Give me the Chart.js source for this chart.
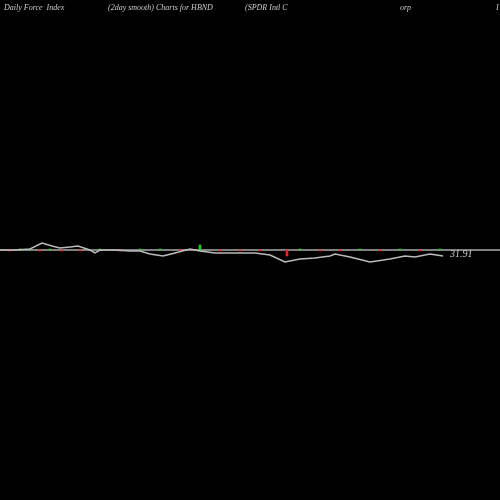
<!DOCTYPE html>
<html>
<head>
<meta charset="utf-8">
<script src="https://cdn.jsdelivr.net/npm/chart.js@4.4.0/dist/chart.umd.min.js"></script>
<style>
  html, body { margin: 0; padding: 0; background: #000; }
  #wrap { width: 500px; height: 500px; }
</style>
</head>
<body>
<div id="wrap"><canvas id="chart"></canvas></div>
<script>
// x positions (px across the chart) and force index values (offset from the zero line)
const xs = [0, 15, 30, 42, 52, 60, 70, 78, 90, 95, 100, 115, 130, 140, 150, 163, 175, 190, 200, 215, 240, 255, 270, 285, 300, 315, 330, 335, 350, 370, 390, 405, 415, 430, 443];
const force = [0, 0, 1, 7, 4, 2, 3, 4, 0, -3, 0, 0, -1, -1, -4, -6, -3, 1, -1, -3, -3, -3, -5, -12, -9, -8, -6, -4, -7, -12, -9, -6, -7, -4, -6];
const tickX = [10, 20, 30, 40, 50, 62, 80, 100, 120, 140, 160, 180, 200, 220, 240, 260, 287, 300, 320, 340, 360, 380, 400, 420, 440];
const tickVal = [-1, 1, 1, -1, 1, -1, -1, 1, -1, 1, 1, -1, 5, -1, -1, -1, -6, 1, -1, -1, 1, -1, 1, -1, 1];
const tickColors = tickVal.map(v => v > 0 ? '#22cc22' : '#ee2222');
const lastLabel = '31.91';

const titles = [
  { text: 'Daily Force  Index', x: 4 },
  { text: '(2day smooth) Charts for HBND', x: 108 },
  { text: '(SPDR Intl C', x: 245 },
  { text: 'orp', x: 400 },
  { text: 'I', x: 496 }
];

const overlay = {
  id: 'overlay',
  beforeDraw(chart) {
    const c = chart.ctx;
    c.save();
    c.fillStyle = '#000';
    c.fillRect(0, 0, chart.width, chart.height);
    const y0 = chart.scales.y.getPixelForValue(0);
    c.strokeStyle = '#aaaaaa';
    c.lineWidth = 1.5;
    c.beginPath(); c.moveTo(0, y0); c.lineTo(500, y0); c.stroke();
    c.restore();
  },
  afterDraw(chart) {
    const c = chart.ctx;
    c.save();
    c.fillStyle = '#cccccc';
    c.font = 'italic 8px "Liberation Serif"';
    c.textBaseline = 'top';
    titles.forEach(t => c.fillText(t.text, t.x, 4));
    c.font = 'italic 10px "Liberation Serif"';
    c.textBaseline = 'middle';
    c.fillText(lastLabel, 450, 254);
    c.restore();
  }
};

new Chart(document.getElementById('chart'), {
  data: {
    datasets: [
      {
        type: 'line',
        data: xs.map((x, i) => ({ x, y: force[i] })),
        borderColor: '#bbbbbb',
        borderWidth: 1.5,
        pointRadius: 0,
        tension: 0
      },
      {
        type: 'bar',
        data: tickX.map((x, i) => ({ x, y: tickVal[i] })),
        backgroundColor: tickColors,
        barThickness: 2
      }
    ]
  },
  options: {
    responsive: true,
    maintainAspectRatio: false,
    animation: false,
    layout: { padding: 0 },
    plugins: { legend: { display: false }, tooltip: { enabled: false } },
    scales: {
      x: { type: 'linear', min: 0, max: 500, offset: false, display: false },
      y: { min: -250, max: 250, display: false }
    }
  },
  plugins: [overlay]
});
</script>
</body>
</html>
